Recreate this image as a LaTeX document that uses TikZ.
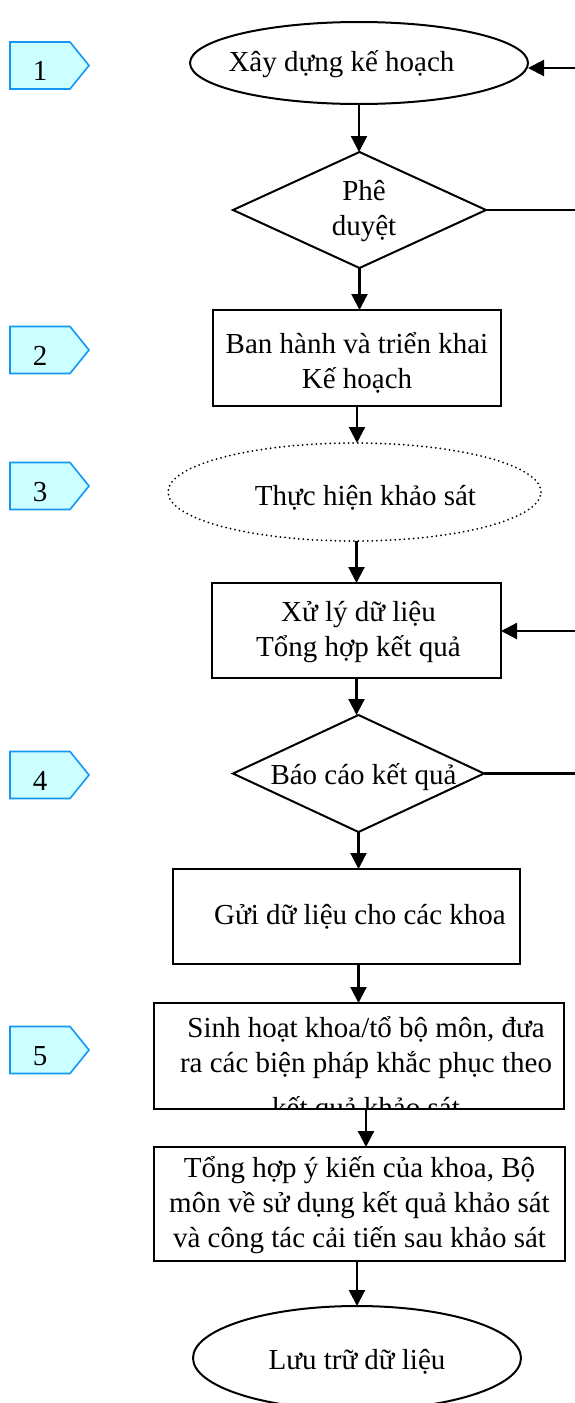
\documentclass[tikz,border=0pt]{standalone}
\usepackage{fontspec}
\setmainfont{Liberation Serif}
\usetikzlibrary{shapes.geometric,arrows.meta}
\definecolor{tagfill}{RGB}{204,255,255}
\definecolor{tagline}{RGB}{20,150,245}
% centred text block of zero size, shifted by (#1 right, #2 down)
\newcommand\cbox[3]{\makebox[0pt]{\hspace*{#1}\raisebox{\dimexpr-7.25pt-#2\relax}[0pt][0pt]{\begin{tabular}{@{}c@{}}#3\end{tabular}}\hspace*{-#1}}}
% step marker: pentagon with its number
\newcommand\tagmark[3]{%
  \path[tagshape] (10,#2-23.5) -- (70,#2-23.5) -- (89,#2) -- (70,#2+23.5) -- (10,#2+23.5) -- cycle;
  \node[anchor=base] (#1) at (40,#2+15) {#3};}
\begin{document}
\begin{tikzpicture}[x=1pt,y=-1pt,
  every node/.style={font=\fontsize{29}{35}\selectfont, inner sep=0pt, outer sep=0pt},
  shp/.style={draw, line width=2pt},
  boxn/.style={shp, rectangle},
  ell/.style={shp, ellipse},
  dia/.style={shp, diamond},
  dotell/.style={ellipse, draw, line width=2pt, dash pattern=on 0pt off 4.6pt, line cap=round},
  arr/.style={line width=2.2pt, -{Triangle[length=16pt,width=16pt]}},
  link/.style={line width=2.2pt},
  tagshape/.style={fill=tagfill, draw=tagline, line width=1.6pt},
]
\useasboundingbox (0,0) rectangle (575,1403);
\clip (0,0) rectangle (575,1403);

% step markers
\tagmark{t1}{65.5}{1}
\tagmark{t2}{350}{2}
\tagmark{t3}{486}{3}
\tagmark{t4}{775}{4}
\tagmark{t5}{1050}{5}

% flow nodes
\node[ell, minimum width=338pt, minimum height=82pt] (e1) at (359,63)
  {\cbox{-17.5pt}{0pt}{Xây dựng kế hoạch}};
\node[dia, minimum width=253pt, minimum height=116pt] (d1) at (359.5,210)
  {\cbox{4.5pt}{0pt}{Phê\\duyệt}};
\node[boxn, minimum width=288pt, minimum height=96pt] (b2) at (357,358)
  {\cbox{0pt}{5pt}{Ban hành và triển khai\\Kế hoạch}};
\node[dotell, minimum width=373pt, minimum height=98pt] (e3) at (354.5,492)
  {\cbox{11pt}{5pt}{Thực hiện khảo sát}};
\node[boxn, minimum width=289pt, minimum height=95pt] (b3) at (356.5,630.5)
  {\cbox{2pt}{0pt}{Xử lý dữ liệu\\Tổng hợp kết quả}};
\node[dia, minimum width=251pt, minimum height=117pt] (d4) at (358.5,773.5)
  {\cbox{5pt}{3pt}{Báo cáo kết quả}};
\node[boxn, minimum width=347pt, minimum height=95pt] (b4) at (346.5,916.5)
  {\cbox{13.5pt}{0pt}{Gửi dữ liệu cho các khoa}};
\node[boxn, minimum width=410pt, minimum height=106pt,
  path picture={\node[draw=none, inner sep=0pt] at (path picture bounding box.center)
    {\cbox{7pt}{13pt}{Sinh hoạt khoa/tổ bộ môn, đưa\\ra các biện pháp khắc phục theo\\[10pt]kết quả khảo sát}};}]
  (b5) at (359,1056) {};
\node[boxn, minimum width=411pt, minimum height=114pt] (b6) at (359.5,1204)
  {\cbox{0pt}{0pt}{Tổng hợp ý kiến của khoa, Bộ\\môn về sử dụng kết quả khảo sát\\và công tác cải tiến sau khảo sát}};
\node[ell, minimum width=328pt, minimum height=104pt] (e7) at (357,1358)
  {\cbox{0pt}{3pt}{Lưu trữ dữ liệu}};

% vertical flow
\coordinate (colB) at (366,0);
\draw[arr] (e1.south) -- (e1.south |- d1.north);
\draw[arr] (d1.south) -- (d1.south |- b2.north);
\draw[arr] (b2.south) -- (b2.south |- e3.north);
\draw[arr] (b3.north |- e3.south) -- (b3.north);
\draw[arr] (b3.south) -- (b3.south |- d4.north);
\draw[arr] (d4.south) -- (d4.south |- b4.north);
\draw[arr] (b4.south -| d4.south) -- (b5.north -| d4.south);
\draw[arr] (b5.south -| colB) -- (b6.north -| colB);
\draw[arr] (b6.south -| e7.north) -- (e7.north);

% return lines on the right
\coordinate (rEdge) at (575,0);
\coordinate (inA) at (575,68);
\coordinate (inB) at (575,631);
\draw[arr] (inA) -- (inA -| e1.east);
\draw[link] (d1.east) -- (d1.east -| rEdge);
\draw[arr] (inB) -- (inB -| b3.east);
\draw[link] (d4.east) -- (d4.east -| rEdge);
\end{tikzpicture}
\end{document}
